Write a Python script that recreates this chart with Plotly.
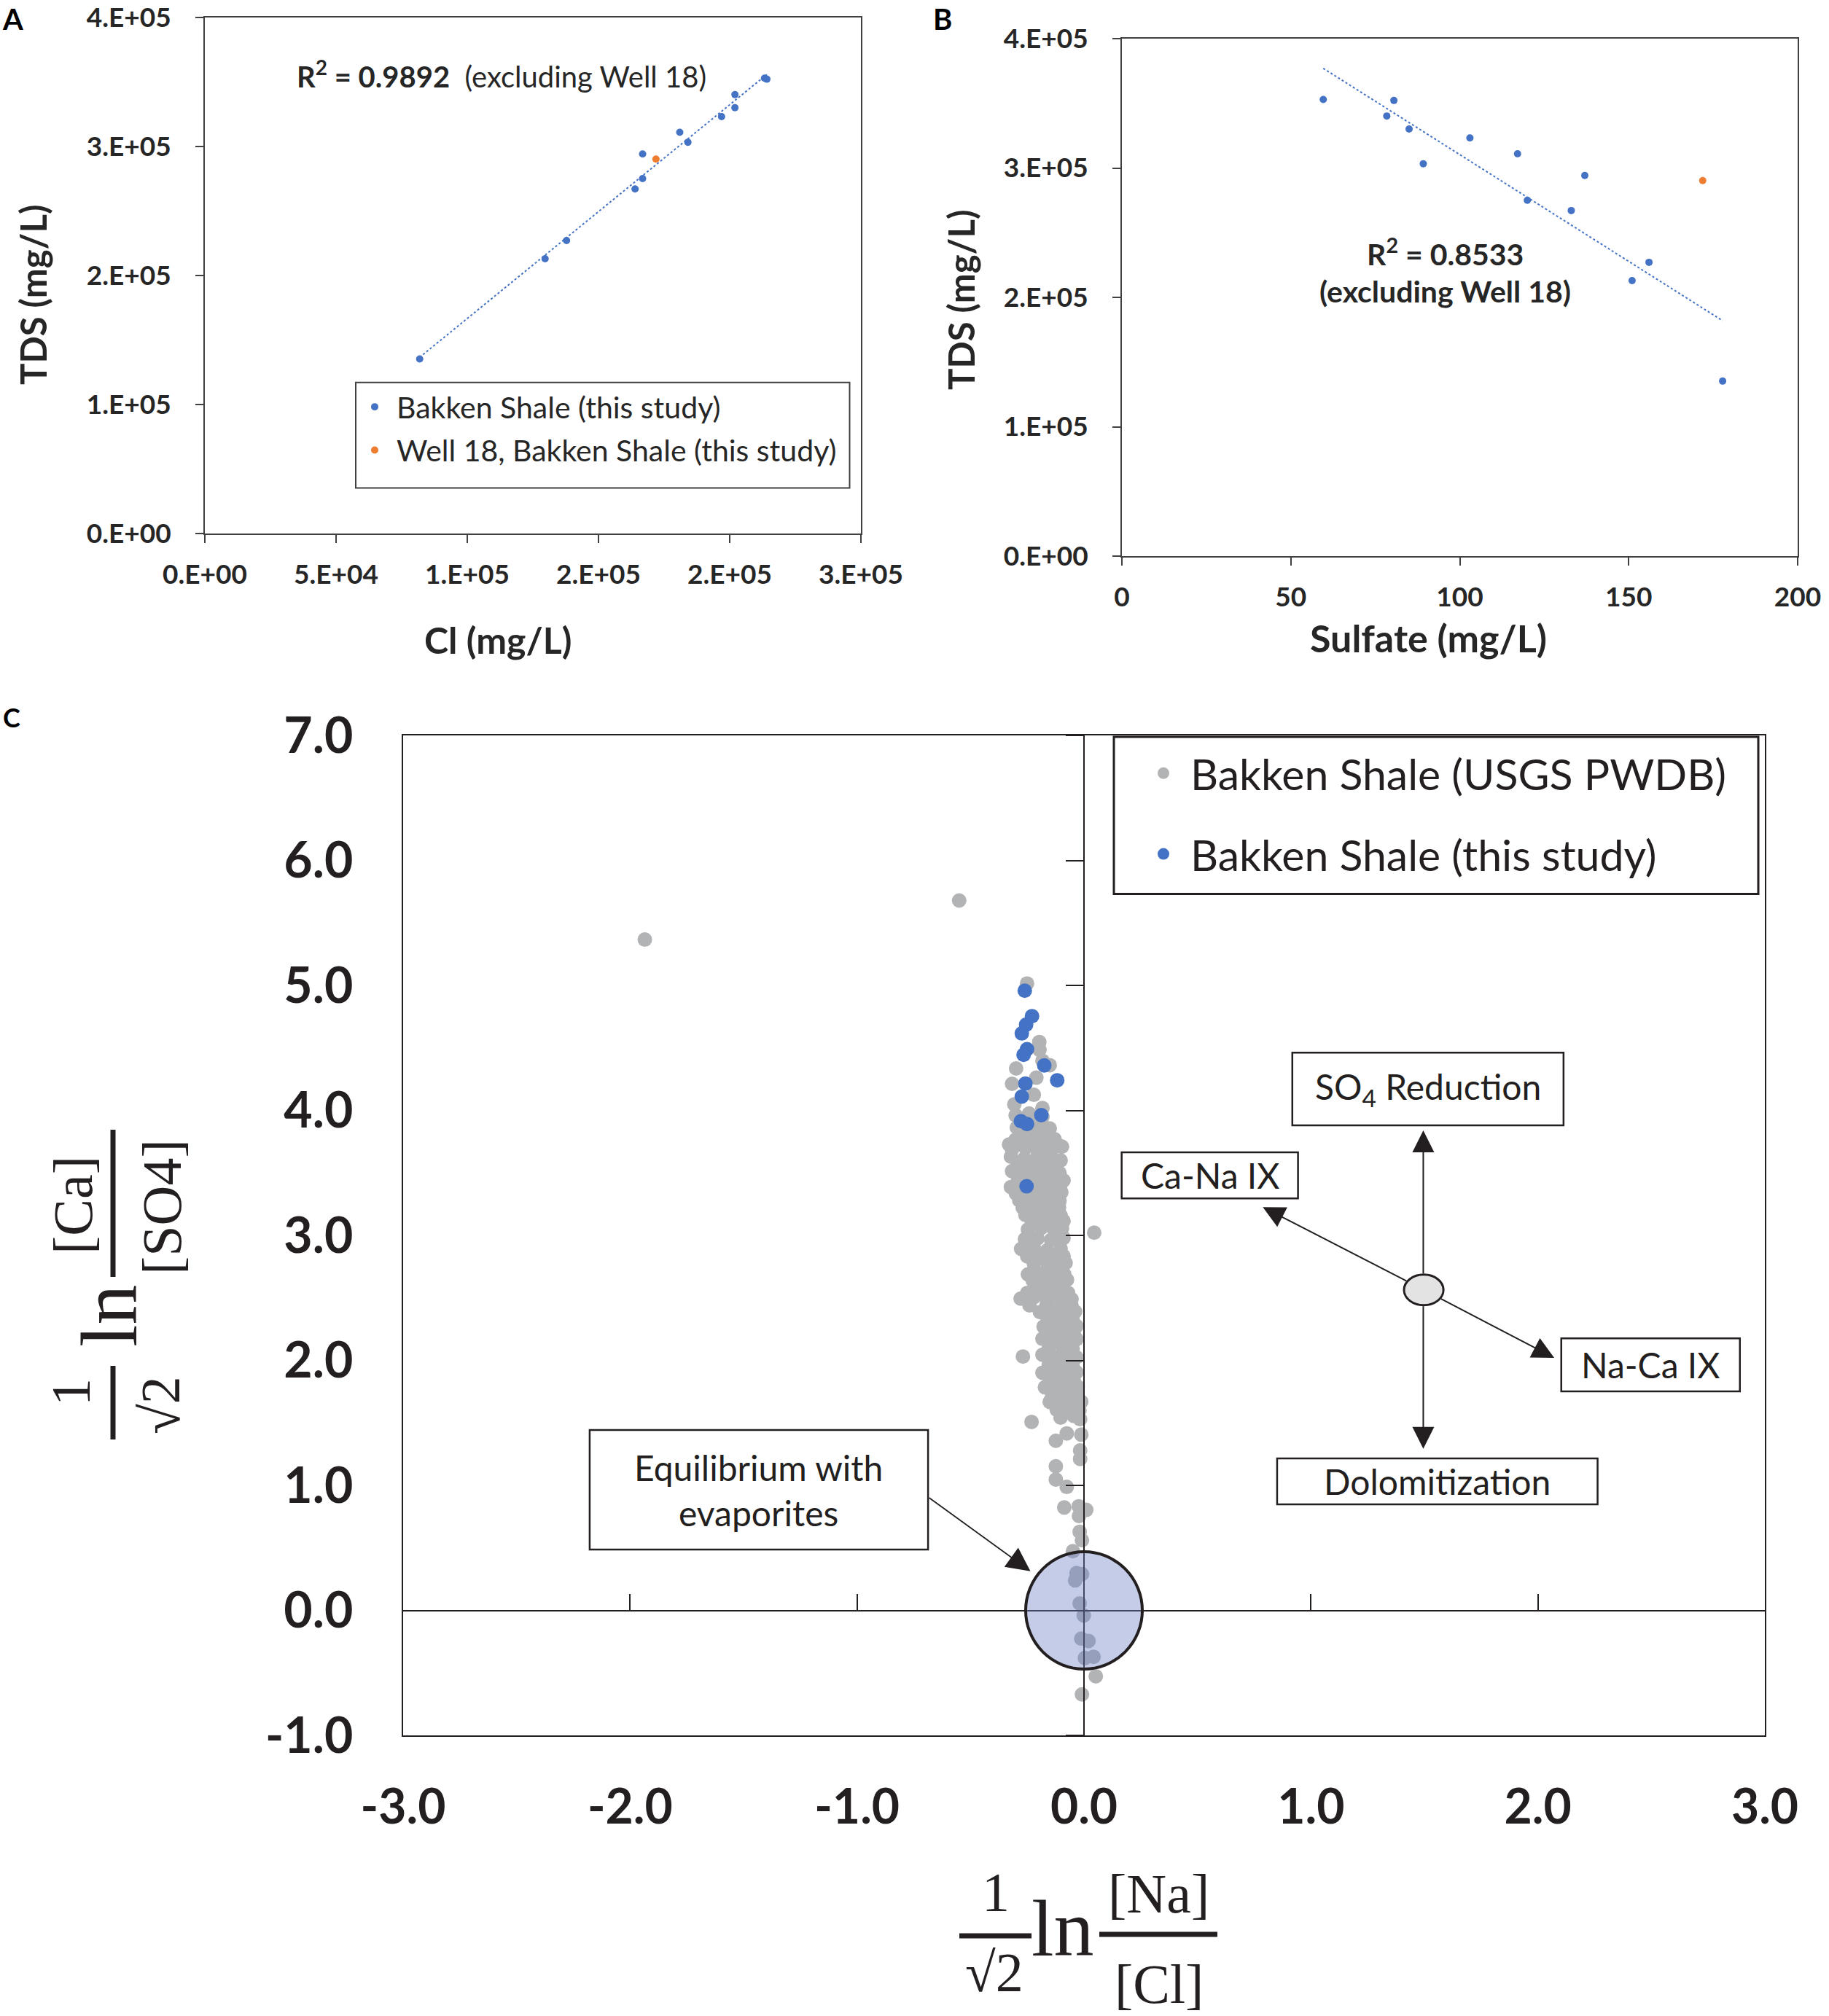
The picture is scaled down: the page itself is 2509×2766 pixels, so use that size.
import numpy as np
import plotly.graph_objects as go

W, H = 2509, 2766

# ---------------- Panels A / B : this study (13 wells + Well 18) ----------------
cl_mgL = [81860, 129650, 137830, 163940, 166810, 166810, 180970, 184070, 196900, 201990, 202000, 213270, 214160]
sulfate_mgL = [177.8, 151.0, 156.0, 133.0, 120.0, 137.0, 117.1, 89.2, 103.0, 85.0, 78.4, 59.6, 80.5]
tds_mgL = [135300, 213000, 227100, 267100, 275100, 294200, 311000, 303300, 323200, 330100, 340200, 353000, 352200]
well18_cl = [171900]
well18_sulfate = [171.9]
well18_tds = [290300]

a_x_tickvals = [0, 50000, 100000, 150000, 200000, 250000]
a_x_ticktext = ["0.E+00", "5.E+04", "1.E+05", "2.E+05", "2.E+05", "3.E+05"]
tds_tickvals = [0, 100000, 200000, 300000, 400000]
tds_ticktext = ["0.E+00", "1.E+05", "2.E+05", "3.E+05", "4.E+05"]
b_x_tickvals = [0, 50, 100, 150, 200]

# ---------------- Panel C ----------------
usgs_x = [-1.935, -0.550, 0.045,
          -0.251, -0.197, -0.196, -0.299, -0.151, -0.183, -0.317, -0.210, -0.221, -0.307, -0.183,
          -0.301, -0.242, -0.183,
          -0.270, -0.210,
          -0.296, -0.237, -0.178, -0.151,
          -0.270, -0.210, -0.165,
          -0.301, -0.242, -0.183, -0.130,
          -0.330, -0.270, -0.210, -0.160, -0.115,
          -0.317, -0.258, -0.199, -0.140, -0.097,
          -0.322, -0.263, -0.205, -0.146, -0.103,
          -0.290, -0.230, -0.175, -0.120,
          -0.317, -0.258, -0.199, -0.140, -0.108,
          -0.290, -0.230, -0.175, -0.120, -0.090,
          -0.322, -0.263, -0.205, -0.146, -0.103,
          -0.300, -0.245, -0.190, -0.135, -0.100,
          -0.285, -0.226, -0.167, -0.108,
          -0.270, -0.215, -0.155, -0.110,
          -0.258, -0.199, -0.140, -0.103,
          -0.230, -0.170, -0.120, -0.090,
          -0.247, -0.188, -0.130, -0.097,
          -0.260, -0.205, -0.145, -0.090,
          -0.277, -0.221, -0.162, -0.103,
          -0.250, -0.190, -0.130, -0.090,
          -0.221, -0.162, -0.103, -0.081,
          -0.220, -0.160, -0.105,
          -0.247, -0.188, -0.130, -0.087,
          -0.225, -0.170, -0.115, -0.075,
          -0.205, -0.146, -0.092,
          -0.250, -0.190, -0.130, -0.070,
          -0.279, -0.221, -0.162, -0.103, -0.055,
          -0.240, -0.165, -0.105, -0.055,
          -0.194, -0.135, -0.076, -0.039,
          -0.160, -0.100, -0.050,
          -0.178, -0.119, -0.060, -0.033,
          -0.150, -0.090, -0.045,
          -0.183, -0.124, -0.065, -0.033,
          -0.155, -0.095, -0.050,
          -0.269, -0.183, -0.124, -0.065, -0.033,
          -0.155, -0.095, -0.050,
          -0.183, -0.124, -0.065, -0.033,
          -0.150, -0.090, -0.045,
          -0.172, -0.113, -0.055, -0.028,
          -0.140, -0.080, -0.030,
          -0.151, -0.092, -0.033, -0.012,
          -0.120, -0.065, -0.020,
          -0.103, -0.044, -0.017,
          -0.231,
          -0.076, -0.012,
          -0.124, -0.017, -0.017, -0.124, -0.124, -0.076, -0.087, -0.023, 0.010,
          -0.022, -0.019, -0.009, -0.049, -0.033, -0.009, -0.039, -0.019, -0.001, -0.012, 0.020, 0.004, 0.042, 0.052, -0.009]
usgs_y = [5.367, 5.679, 3.022,
          5.015, 4.547, 4.485, 4.335, 4.362, 4.397, 4.213, 4.262, 4.125, 4.048, 4.019,
          3.960, 3.975, 3.950,
          3.910, 3.905,
          3.863, 3.850, 3.870, 3.855,
          3.815, 3.820, 3.810,
          3.766, 3.780, 3.760, 3.770,
          3.727, 3.730, 3.720, 3.735, 3.725,
          3.688, 3.700, 3.680, 3.690, 3.710,
          3.630, 3.615, 3.640, 3.625, 3.600,
          3.572, 3.565, 3.580, 3.570,
          3.514, 3.530, 3.505, 3.520, 3.500,
          3.450, 3.460, 3.445, 3.455, 3.440,
          3.387, 3.400, 3.380, 3.395, 3.410,
          3.335, 3.330, 3.340, 3.325, 3.345,
          3.280, 3.265, 3.290, 3.275,
          3.222, 3.230, 3.215, 3.225,
          3.164, 3.150, 3.175, 3.160,
          3.105, 3.110, 3.100, 3.115,
          3.047, 3.060, 3.040, 3.055,
          2.970, 2.975, 2.965, 2.980,
          2.892, 2.905, 2.880, 2.895,
          2.833, 2.840, 2.825, 2.835,
          2.775, 2.790, 2.765, 2.780,
          2.730, 2.735, 2.725,
          2.688, 2.675, 2.700, 2.690,
          2.635, 2.640, 2.630, 2.645,
          2.581, 2.595, 2.570,
          2.540, 2.545, 2.535, 2.540,
          2.494, 2.505, 2.485, 2.500, 2.490,
          2.440, 2.445, 2.435, 2.440,
          2.387, 2.400, 2.375, 2.390,
          2.330, 2.335, 2.325,
          2.270, 2.285, 2.260, 2.275,
          2.220, 2.225, 2.215,
          2.173, 2.160, 2.185, 2.170,
          2.100, 2.105, 2.095,
          2.031, 2.045, 2.020, 2.035, 2.025,
          1.965, 1.970, 1.960,
          1.901, 1.915, 1.890, 1.905,
          1.845, 1.850, 1.840,
          1.785, 1.800, 1.775, 1.790,
          1.725, 1.730, 1.720,
          1.668, 1.680, 1.655, 1.670,
          1.605, 1.610, 1.600,
          1.542, 1.555, 1.530,
          1.508,
          1.416, 1.406,
          1.357, 1.280, 1.212, 1.153, 1.047, 0.988, 0.823, 0.833, 0.804,
          0.755, 0.629, 0.561, 0.474, 0.299, 0.290, 0.240, 0.056, -0.041, -0.226, -0.245, -0.381, -0.371, -0.527, -0.672]
study_x = [-0.261, -0.229, -0.255, -0.274, -0.251, -0.266, -0.175, -0.118, -0.258, -0.274, -0.188, -0.278, -0.251, -0.253]
study_y = [4.958, 4.754, 4.686, 4.616, 4.490, 4.445, 4.360, 4.241, 4.215, 4.111, 3.962, 3.914, 3.891, 3.393]

c_x_tickvals = [-3, -2, -1, 0, 1, 2, 3]
c_x_ticktext = ["-3.0", "-2.0", "-1.0", "0.0", "1.0", "2.0", "3.0"]
c_y_tickvals = [-1, 0, 1, 2, 3, 4, 5, 6, 7]
c_y_ticktext = ["-1.0", "0.0", "1.0", "2.0", "3.0", "4.0", "5.0", "6.0", "7.0"]

# ---------------- colours / fonts ----------------
BLUE = "#4472C4"
ORANGE = "#ED7D31"
GRAY = "#B2B3B5"
INK = "#231F20"
SANS = "Lato, 'Open Sans', sans-serif"
SERIF = "'Liberation Serif', 'DejaVu Serif', serif"


def px_x(p):
    return p / W


def px_y(p):
    return 1 - p / H


fig = go.Figure()

# ---- Panel A ----
a_fit = np.polyfit(cl_mgL, tds_mgL, 1)
a_lx = [min(cl_mgL), max(cl_mgL)]
fig.add_trace(go.Scatter(x=a_lx, y=list(np.polyval(a_fit, a_lx)), mode="lines",
                         line=dict(color=BLUE, width=2, dash="dot"), showlegend=False,
                         xaxis="x", yaxis="y", hoverinfo="skip"))
fig.add_trace(go.Scatter(x=cl_mgL, y=tds_mgL, mode="markers", name="Bakken Shale (this study)",
                         marker=dict(color=BLUE, size=10), xaxis="x", yaxis="y",
                         legend="legend", legendgroup="a1"))
fig.add_trace(go.Scatter(x=well18_cl, y=well18_tds, mode="markers", name="Well 18, Bakken Shale (this study)",
                         marker=dict(color=ORANGE, size=10), xaxis="x", yaxis="y",
                         legend="legend", legendgroup="a2"))

# ---- Panel B ----
b_fit = np.polyfit(sulfate_mgL, tds_mgL, 1)
b_lx = [min(sulfate_mgL), max(sulfate_mgL)]
fig.add_trace(go.Scatter(x=b_lx, y=list(np.polyval(b_fit, b_lx)), mode="lines",
                         line=dict(color=BLUE, width=2, dash="dot"), showlegend=False,
                         xaxis="x2", yaxis="y2", hoverinfo="skip"))
fig.add_trace(go.Scatter(x=sulfate_mgL, y=tds_mgL, mode="markers", showlegend=False,
                         marker=dict(color=BLUE, size=10), xaxis="x2", yaxis="y2"))
fig.add_trace(go.Scatter(x=well18_sulfate, y=well18_tds, mode="markers", showlegend=False,
                         marker=dict(color=ORANGE, size=10), xaxis="x2", yaxis="y2"))

# ---- Panel C ----
fig.add_trace(go.Scatter(x=usgs_x, y=usgs_y, mode="markers", name="Bakken Shale (USGS PWDB)",
                         marker=dict(color=GRAY, size=20), xaxis="x3", yaxis="y3",
                         legend="legend2", legendgroup="c1"))
fig.add_trace(go.Scatter(x=study_x, y=study_y, mode="markers", name="Bakken Shale (this study)",
                         marker=dict(color=BLUE, size=20), xaxis="x3", yaxis="y3",
                         legend="legend2", legendgroup="c2"))
# carrier for the crossing axes through the origin
fig.add_trace(go.Scatter(x=[None], y=[None], mode="markers", showlegend=False,
                         xaxis="x4", yaxis="y4", hoverinfo="skip"))

frame = dict(showline=True, mirror=True, linecolor="#404040", linewidth=2,
             showgrid=False, zeroline=False, ticks="outside", ticklen=11, tickwidth=2,
             tickcolor="#404040", ticklabeloverflow="allow", automargin=False)
small_tick_font = dict(family=SANS, size=37, color="#262626", weight="bold")

fig.update_layout(
    width=W, height=H, margin=dict(l=0, r=0, t=0, b=0, autoexpand=False),
    paper_bgcolor="white", plot_bgcolor="white",
    xaxis=dict(domain=[px_x(281), px_x(1181)], anchor="y", range=[0, 250000],
               tickvals=a_x_tickvals, ticktext=a_x_ticktext, tickfont=small_tick_font,
               ticklabelstandoff=12, **frame),
    yaxis=dict(domain=[px_y(732), px_y(24)], anchor="x", range=[0, 400000],
               tickvals=tds_tickvals, ticktext=tds_ticktext, tickfont=small_tick_font,
               ticklabelstandoff=26, **frame),
    xaxis2=dict(domain=[px_x(1539), px_x(2466)], anchor="y2", range=[0, 200],
                tickvals=b_x_tickvals, tickfont=small_tick_font, ticklabelstandoff=12, **frame),
    yaxis2=dict(domain=[px_y(763), px_y(53)], anchor="x2", range=[0, 400000],
                tickvals=tds_tickvals, ticktext=tds_ticktext, tickfont=small_tick_font,
                ticklabelstandoff=26, **frame),
    xaxis3=dict(domain=[px_x(553), px_x(2421)], anchor="y3", range=[-3, 3],
                tickvals=c_x_tickvals, ticktext=c_x_ticktext, ticks="",
                showline=True, mirror=True, linecolor=INK, linewidth=2,
                showgrid=False, zeroline=False, ticklabelstandoff=40, automargin=False,
                ticklabeloverflow="allow",
                tickfont=dict(family=SANS, size=66, color=INK, weight="bold")),
    yaxis3=dict(domain=[px_y(2381), px_y(1009)], anchor="x3", range=[-1, 7],
                tickvals=c_y_tickvals, ticktext=c_y_ticktext, ticks="",
                showline=True, mirror=True, linecolor=INK, linewidth=2,
                showgrid=False, zeroline=False, ticklabelstandoff=53, automargin=False,
                ticklabeloverflow="allow",
                tickfont=dict(family=SANS, size=68, color=INK, weight="bold")),
    xaxis4=dict(overlaying="x3", anchor="free", position=px_y(2209.6), range=[-3, 3],
                side="bottom", tickvals=c_x_tickvals, showticklabels=False, automargin=False,
                ticks="inside", ticklen=22, tickwidth=2, tickcolor=INK,
                showline=True, linecolor=INK, linewidth=2, showgrid=False, zeroline=False),
    yaxis4=dict(overlaying="y3", anchor="free", position=px_x(1487), range=[-1, 7],
                side="left", tickvals=c_y_tickvals, showticklabels=False, automargin=False,
                ticks="outside", ticklen=24, tickwidth=2, tickcolor=INK,
                showline=True, linecolor=INK, linewidth=2, showgrid=False, zeroline=False),
    legend=dict(x=px_x(484), y=px_y(525), xanchor="left", yanchor="top", itemwidth=50,
                bgcolor="rgba(0,0,0,0)", borderwidth=0, tracegroupgap=3,
                font=dict(family=SANS, size=41, color="#262626")),
    legend2=dict(x=px_x(1559), y=px_y(1016), xanchor="left", yanchor="top", itemwidth=64,
                 bgcolor="rgba(0,0,0,0)", borderwidth=0, tracegroupgap=31,
                 font=dict(family=SANS, size=59, color=INK)),
    showlegend=True,
)

shapes = []
# legend frames
shapes.append(dict(type="rect", xref="paper", yref="paper", x0=px_x(488), x1=px_x(1165.5),
                   y0=px_y(669.4), y1=px_y(524.7), line=dict(color="#404040", width=2),
                   fillcolor="white", layer="above"))
shapes.append(dict(type="rect", xref="paper", yref="paper", x0=px_x(1528), x1=px_x(2412),
                   y0=px_y(1226.6), y1=px_y(1011), line=dict(color=INK, width=3),
                   fillcolor="white", layer="above"))
# process boxes in panel C
for (x0, x1, y0, y1) in [(0.918, 2.113, 3.881, 4.462), (0.166, 0.943, 3.296, 3.664),
                         (2.103, 2.890, 1.752, 2.177), (0.851, 2.263, 0.849, 1.216),
                         (-2.178, -0.687, 0.487, 1.443)]:
    shapes.append(dict(type="rect", xref="x3", yref="y3", x0=x0, x1=x1, y0=y0, y1=y1,
                       line=dict(color=INK, width=2.5), fillcolor="white", layer="above"))
# evaporite equilibrium circle and process origin
shapes.append(dict(type="circle", xref="x3", yref="y3", x0=-0.257, x1=0.257, y0=-0.469, y1=0.469,
                   line=dict(color=INK, width=4), fillcolor="rgba(111,130,199,0.41)", layer="above"))
shapes.append(dict(type="circle", xref="x3", yref="y3", x0=1.410, x1=1.584, y0=2.442, y1=2.686,
                   line=dict(color=INK, width=3), fillcolor="#E3E3E3", layer="above"))
# fraction bars of the axis titles
bar = dict(color=INK, width=7)
shapes.append(dict(type="line", xref="paper", yref="paper", x0=px_x(155), x1=px_x(155),
                   y0=px_y(1975), y1=px_y(1874), line=bar))
shapes.append(dict(type="line", xref="paper", yref="paper", x0=px_x(155), x1=px_x(155),
                   y0=px_y(1752), y1=px_y(1550), line=bar))
shapes.append(dict(type="line", xref="paper", yref="paper", x0=px_x(1316), x1=px_x(1415),
                   y0=px_y(2656), y1=px_y(2656), line=bar))
shapes.append(dict(type="line", xref="paper", yref="paper", x0=px_x(1508), x1=px_x(1670),
                   y0=px_y(2654), y1=px_y(2654), line=bar))
fig.update_layout(shapes=shapes)

ann = []


def ptext(x, y, text, size, family=SANS, bold=False, angle=0, xanchor="center", yanchor="middle",
          color=INK):
    ann.append(dict(xref="paper", yref="paper", x=px_x(x), y=px_y(y), text=text, showarrow=False,
                    xanchor=xanchor, yanchor=yanchor, textangle=angle,
                    font=dict(family=family, size=size, color=color, weight="bold" if bold else "normal")))


# panel letters
ptext(17, 0, "A", 40, bold=True, yanchor="top", color="black")
ptext(1293, 0, "B", 40, bold=True, yanchor="top", color="black")
ptext(16, 984, "C", 36, bold=True, color="black")
# axis titles A / B
ptext(45, 405, "TDS (mg/L)", 49, bold=True, angle=-90, color="#262626")
ptext(683, 878, "Cl (mg/L)", 50, bold=True, color="#262626")
ptext(1318, 412, "TDS (mg/L)", 49, bold=True, angle=-90, color="#262626")
ptext(1959, 875, "Sulfate (mg/L)", 52, bold=True, color="#262626")
# regression notes
ptext(405, 102, "<b>R<sup>2</sup> = 0.9892</b>  (excluding Well 18)", 40, xanchor="left", color="#262626")
ptext(1983, 346, "R<sup>2</sup> = 0.8533", 41, bold=True, color="#262626")
ptext(1983, 400, "(excluding Well 18)", 41, bold=True, color="#262626")

# panel C y title (rotated fraction)
ptext(97, 1910, "1", 76, family=SERIF, angle=-90)
ptext(220, 1928, "\u221a2", 76, family=SERIF, angle=-90)
ptext(150, 1805, "ln", 110, family=SERIF, angle=-90)
ptext(100, 1654, "[Ca]", 76, family=SERIF, angle=-90)
ptext(222, 1656, "[SO4]", 76, family=SERIF, angle=-90)
# panel C x title
ptext(1366, 2596, "1", 76, family=SERIF)
ptext(1364, 2706, "\u221a2", 76, family=SERIF)
ptext(1458, 2646, "ln", 110, family=SERIF)
ptext(1589, 2598, "[Na]", 76, family=SERIF)
ptext(1590, 2722, "[Cl]", 76, family=SERIF)


def dtext(x, y, text, size=48):
    ann.append(dict(xref="x3", yref="y3", x=x, y=y, text=text, showarrow=False,
                    xanchor="center", yanchor="middle", font=dict(family=SANS, size=size, color=INK)))


dtext(1.516, 4.171, "SO<sub>4</sub> Reduction")
dtext(0.555, 3.480, "Ca-Na IX")
dtext(2.497, 1.965, "Na-Ca IX")
dtext(1.557, 1.033, "Dolomitization")
dtext(-1.433, 0.965, "Equilibrium with<br>evaporites")


def arrow(x, y, ax, ay, width=2, size=3.0):
    ann.append(dict(xref="x3", yref="y3", axref="x3", ayref="y3", x=x, y=y, ax=ax, ay=ay,
                    text="", showarrow=True, arrowhead=2, arrowsize=size, arrowwidth=width,
                    arrowcolor=INK, standoff=0, startstandoff=0))


arrow(1.495, 3.840, 1.495, 2.686)
arrow(1.495, 1.293, 1.495, 2.442)
arrow(0.788, 3.226, 1.425, 2.632)
arrow(2.072, 2.020, 1.569, 2.497)
arrow(-0.236, 0.314, -0.687, 0.907, width=1.8, size=3.6)

fig.update_layout(annotations=ann)

fig.write_html("out.html", config={"displayModeBar": False},
               post_script="document.body.style.margin='0';document.body.style.overflow='hidden';")
